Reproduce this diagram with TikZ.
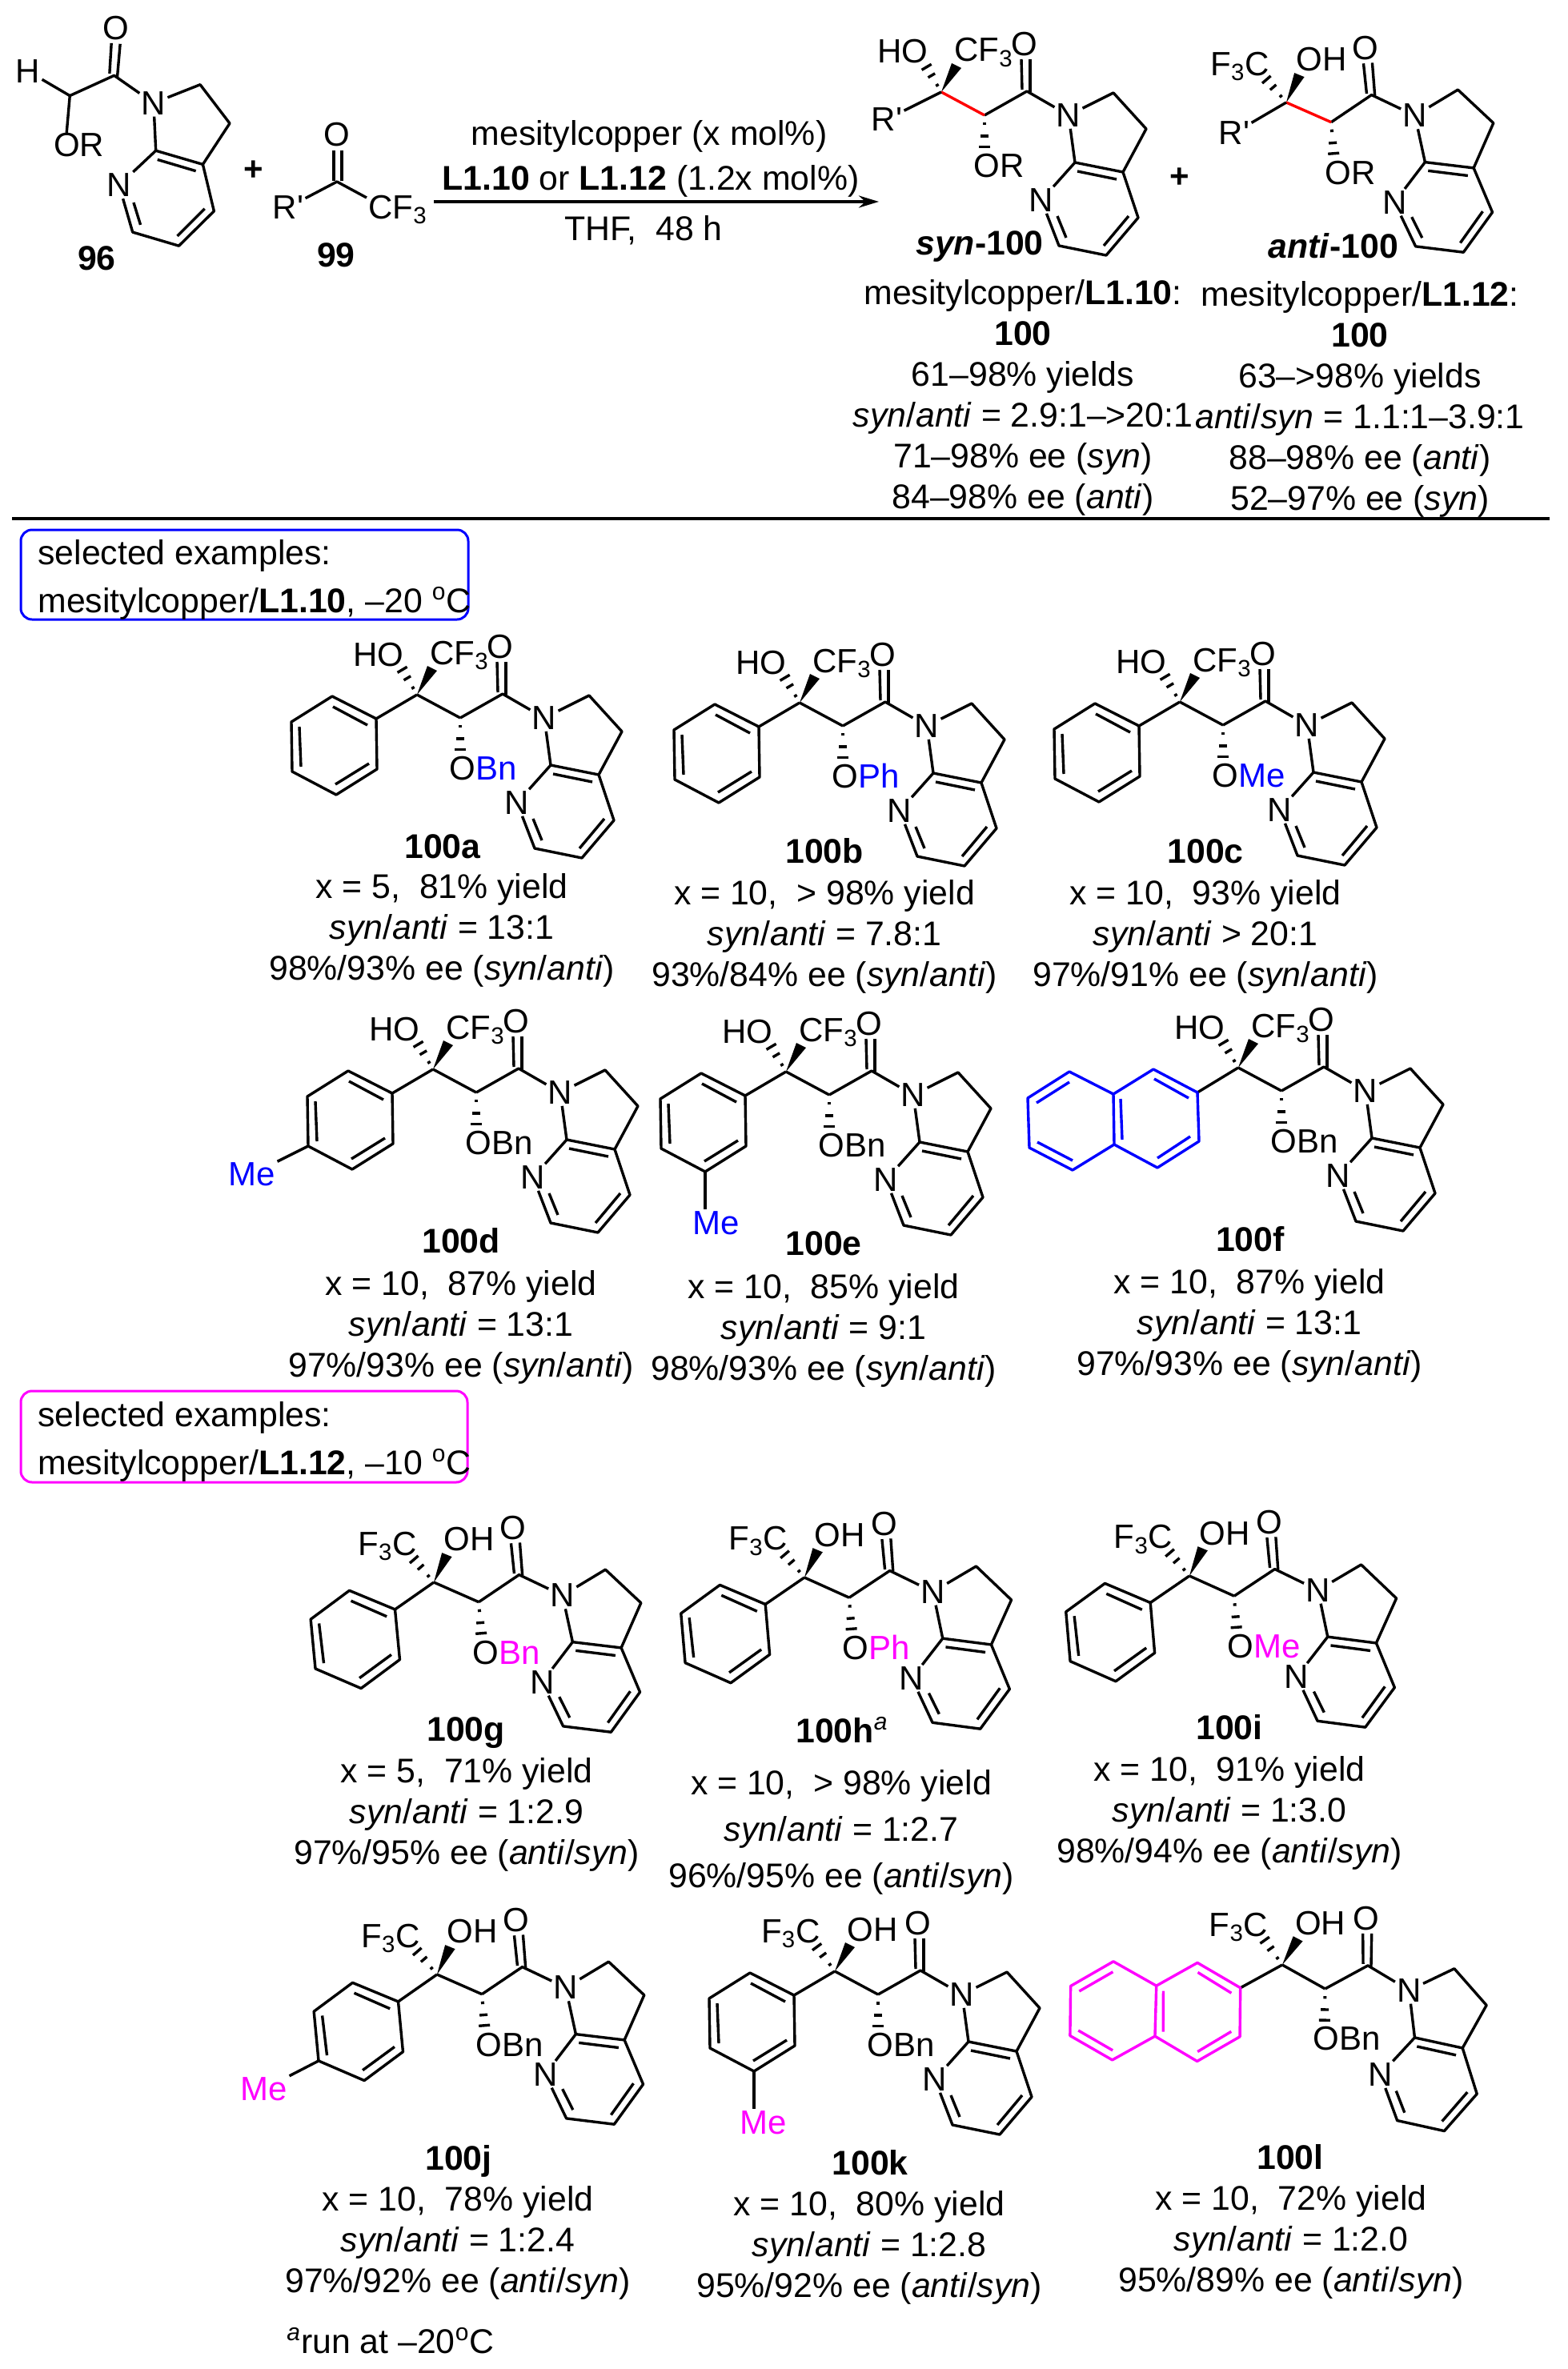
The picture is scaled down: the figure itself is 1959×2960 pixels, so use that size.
\documentclass[tikz,border=0pt]{standalone}
\usepackage{fontspec}
\setmainfont{Liberation Sans}
\usetikzlibrary{arrows.meta,calc}

\definecolor{exblue}{RGB}{0,0,255}
\definecolor{exmag}{RGB}{255,0,255}
\definecolor{exred}{RGB}{255,0,0}

\tikzset{
  bond/.style = {line width = 1.7pt, line join = round},
  atom/.style = {inner sep = 1pt, font = \fontsize{21}{25}\selectfont},
  group/.style = {inner sep = 0pt, font = \fontsize{21}{25}\selectfont},
  cmpd/.style = {inner sep = 0pt, anchor = base, font = \bfseries\fontsize{21.4}{25}\selectfont},
  txt/.style = {inner sep = 0pt, font = \fontsize{21.4}{25}\selectfont},
  result/.style = {inner sep = 0pt, align = center, font = \fontsize{21.4}{25.5}\selectfont},
  selbox/.style = {line width = 1.5pt, rounded corners = 7pt}
}

\newcommand{\hashbond}[2]{
  \foreach \hpos/\hw in {.22/1pt,.53/2.5pt,.8/3.5pt}
    \draw [bond] ($(#1)!\hpos!(#2)!\hw!90:(#2)$) -- ($(#1)!\hpos!(#2)!\hw!-90:(#2)$);
}

\newcommand{\amidecore}[3]{
  \begin{scope}[shift = {(#1)}, rotate = #2]
    \coordinate (cq) at (0,0);
    \coordinate (ch) at (54,29);
    \coordinate (co) at (107,-1);
    \coordinate (ca) at (215,1);
    \coordinate (cb) at (256,46);
    \coordinate (c3a) at (227,100);
    \coordinate (c7a) at (167,88);
    \coordinate (c6) at (147,192);
    \coordinate (c5) at (206,204);
    \coordinate (c4) at (246,157);
    \coordinate (orup) at (54,78);
    \node [atom] (ok) at (104,-60) {O};
    \node [atom] (n1) at (159,29) {N};
    \node [atom] (n7) at (125,135) {N};
    \node [group, anchor = base west] (or) at (40,106) {O#3};
    \draw [bond] (ch) -- (co) -- (n1) -- (ca) -- (cb) -- (c3a) -- (c7a) -- (n1);
    \draw [bond] (c7a) -- (n7) -- (c6) -- (c5) -- (c4) -- (c3a);
    \draw [bond] (100,-41) -- (101,-3);
    \draw [bond] (111,-41) -- (111,0);
    \draw [bond] (170,99) -- (219,109);
    \draw [bond] (145,155) -- (156,182);
    \draw [bond] (203,192) -- (234,155);
  \end{scope}
}

\newcommand{\synmol}[4][black]{
  \amidecore{#2}{#3}{#4}
  \begin{scope}[shift = {(#2)}, rotate = #3]
    \node [group, anchor = base east] (ho) at (-16,-36) {HO};
    \node [group, anchor = base west] (cf) at (16,-38) {CF\textsubscript{3}};
    \coordinate (hashend) at (-23,-39);
    \fill (cq) -- (13,-36) -- (25,-30) -- cycle;
    \draw [bond, #1] (cq) -- (ch);
    \hashbond{cq}{hashend}
    \hashbond{ch}{orup}
  \end{scope}
}

\newcommand{\antimol}[4][black]{
  \amidecore{#2}{#3}{#4}
  \begin{scope}[shift = {(#2)}, rotate = #3]
    \node [group, anchor = base east] (cf) at (-18,-35.5) {F\textsubscript{3}C};
    \node [group, anchor = base west] (ho) at (15,-38) {OH};
    \coordinate (hashend) at (-28,-38);
    \fill (cq) -- (13,-36) -- (25,-30) -- cycle;
    \draw [bond, #1] (cq) -- (ch);
    \hashbond{cq}{hashend}
    \hashbond{ch}{orup}
  \end{scope}
}

\newcommand{\phenyl}[2]{
  \begin{scope}[shift = {(#1)}, rotate = #2]
    \coordinate (p1) at (-51,30);
    \coordinate (p2) at (-106,2);
    \coordinate (p3) at (-157,34);
    \coordinate (p4) at (-156,96);
    \coordinate (p5) at (-101,125);
    \coordinate (p6) at (-50,93);
    \draw [bond] (cq) -- (p1);
    \draw [bond] (p1) -- (p2) -- (p3) -- (p4) -- (p5) -- (p6) -- cycle;
    \draw [bond] (-62,38) -- (-105,15);
    \draw [bond] (-147,40) -- (-145,90);
    \draw [bond] (-102,112) -- (-60,86);
  \end{scope}
}

\newcommand{\naphthyl}[3]{
  \begin{scope}[shift = {(#1)}, rotate = #2]
    \coordinate (p1) at (-51,31);
    \draw [bond] (cq) -- (p1);
    \draw [bond, #3] (p1) -- (-106,2) -- (-156,33) -- (-211,5) -- (-263,38) -- (-261,100)
      -- (-207,128) -- (-155,96) -- (-101,125) -- (-49,92) -- cycle;
    \draw [bond, #3] (-156,33) -- (-155,96);
    \draw [bond, #3] (-105,14) -- (-62,38);
    \draw [bond, #3] (-147,39) -- (-145,90);
    \draw [bond, #3] (-101,113) -- (-60,86);
    \draw [bond, #3] (-211,18) -- (-252,44);
    \draw [bond, #3] (-251,93) -- (-207,116);
  \end{scope}
}

\begin{document}
\begin{tikzpicture}[x = 0.5pt, y = -0.5pt]
\useasboundingbox (0,0) rectangle (1959,2960);

\amidecore{36,86}{-5}{R}
\node [atom] (h) at (35,89) {H};
\draw [bond] (h) -- (ch);
\draw [bond] (ch) -- (orup);
\node [cmpd] (l96) at (121,337) {96};

\node [txt, font = \bfseries\fontsize{21}{25}\selectfont] (plus1) at (317,213) {+};

\coordinate (cc) at (421,227);
\coordinate (cfb) at (458,247);
\node [atom] (o99) at (421,168) {O};
\node [atom] (r99) at (360,259) {R\textquotesingle};
\node [group, anchor = base west] (cf99) at (460,273) {CF\textsubscript{3}};
\draw [bond] (r99) -- (cc) -- (cfb);
\draw [bond] (417,188) -- (417,226);
\draw [bond] (427,188) -- (427,226);
\node [cmpd] (l99) at (420,333) {99};

\coordinate (arrowa) at (542,252);
\coordinate (arrowb) at (1098,252);
\draw [line width = 1.8pt, -{Stealth[length = 12.5pt, width = 7.5pt]}] (arrowa) -- (arrowb);
\node [txt, anchor = base] (cond1) at (811,181) {mesitylcopper (x mol\%)};
\node [txt, anchor = base] (cond2) at (813,237) {\textbf{L1.10} or \textbf{L1.12} (1.2x mol\%)};
\node [txt, anchor = base] (cond3) at (804,300) {THF,~ 48 h};

\synmol[exred]{1176,115}{0}{R}
\node [atom] (rsyn) at (1108,149) {R\textquotesingle};
\draw [bond] (cq) -- (rsyn);
\node [cmpd] (lsyn) at (1224,318) {\textit{syn}-100};

\node [txt, font = \bfseries\fontsize{21}{25}\selectfont] (plus2) at (1474,222) {+};

\antimol[exred]{1607,128}{4.5}{R}
\node [atom] (ranti) at (1542,166) {R\textquotesingle};
\draw [bond] (cq) -- (ranti);
\node [cmpd] (lanti) at (1666,322) {\textit{anti}-100};

\node [result] (colsyn) at (1278,497) {mesitylcopper/\textbf{L1.10}:\\\textbf{100}\\61–98\% yields\\\textit{syn}/\textit{anti} = 2.9:1–>20:1\\71–98\% ee (\textit{syn})\\84–98\% ee (\textit{anti})};
\node [result] (colanti) at (1699,499) {mesitylcopper/\textbf{L1.12}:\\\textbf{100}\\63–>98\% yields\\\textit{anti}/\textit{syn} = 1.1:1–3.9:1\\88–98\% ee (\textit{anti})\\52–97\% ee (\textit{syn})};

\coordinate (rulea) at (15,648);
\coordinate (ruleb) at (1936,648);
\draw [line width = 1.8pt] (rulea) -- (ruleb);

\draw [selbox, exblue] (26,662) rectangle (585,774);
\node [txt, anchor = base west] (sel1) at (47,705) {selected examples:};
\node [txt, anchor = base west] (sel2) at (47,765) {mesitylcopper/\textbf{L1.10}, –20 \textsuperscript{o}C};

\synmol{521,868}{0}{\textcolor{exblue}{Bn}}
\phenyl{521,868}{0}
\node [cmpd] (la) at (553,1072) {100a};
\node [result] (ra) at (552,1162) {x = 5,~ 81\% yield\\\textit{syn}/\textit{anti} = 13:1\\98\%/93\% ee (\textit{syn}/\textit{anti})};

\synmol{999,878}{0}{\textcolor{exblue}{Ph}}
\phenyl{999,878}{0}
\node [cmpd] (lb) at (1030,1078) {100b};
\node [result] (rb) at (1030,1170) {x = 10,~ > 98\% yield\\\textit{syn}/\textit{anti} = 7.8:1\\93\%/84\% ee (\textit{syn}/\textit{anti})};

\synmol{1474,877}{0}{\textcolor{exblue}{Me}}
\phenyl{1474,877}{0}
\node [cmpd] (lc) at (1506,1078) {100c};
\node [result] (rc) at (1506,1170) {x = 10,~ 93\% yield\\\textit{syn}/\textit{anti} > 20:1\\97\%/91\% ee (\textit{syn}/\textit{anti})};

\synmol{541,1336}{0}{Bn}
\phenyl{541,1336}{0}
\node [atom, exblue] (med) at (315,1467) {Me};
\draw [bond] (p4) -- (med);
\node [cmpd] (ld) at (576,1565) {100d};
\node [result] (rd) at (576,1658) {x = 10,~ 87\% yield\\\textit{syn}/\textit{anti} = 13:1\\97\%/93\% ee (\textit{syn}/\textit{anti})};

\synmol{982,1339}{0}{Bn}
\phenyl{982,1339}{0}
\node [atom, exblue] (mee) at (895,1528) {Me};
\draw [bond] (p5) -- (p5 |- mee.north);
\node [cmpd] (le) at (1029,1568) {100e};
\node [result] (re) at (1029,1662) {x = 10,~ 85\% yield\\\textit{syn}/\textit{anti} = 9:1\\98\%/93\% ee (\textit{syn}/\textit{anti})};

\synmol{1547,1334}{0}{Bn}
\naphthyl{1547,1334}{0}{exblue}
\node [cmpd] (lf) at (1562,1563) {100f};
\node [result] (rf) at (1561,1656) {x = 10,~ 87\% yield\\\textit{syn}/\textit{anti} = 13:1\\97\%/93\% ee (\textit{syn}/\textit{anti})};

\draw [selbox, exmag] (26,1738) rectangle (584,1852);
\node [txt, anchor = base west] (sel3) at (47,1782) {selected examples:};
\node [txt, anchor = base west] (sel4) at (47,1842) {mesitylcopper/\textbf{L1.12}, –10 \textsuperscript{o}C};

\antimol{542,1977}{4.5}{\textcolor{exmag}{Bn}}
\phenyl{542,1977}{4.5}
\node [cmpd] (lg) at (582,2175) {100g};
\node [result] (rg) at (583,2267) {x = 5,~ 71\% yield\\\textit{syn}/\textit{anti} = 1:2.9\\97\%/95\% ee (\textit{anti}/\textit{syn})};

\antimol{1005,1971}{4}{\textcolor{exmag}{Ph}}
\phenyl{1005,1971}{4}
\node [cmpd] (lh) at (1052,2177) {100h\textsuperscript{\mdseries\textit{a}}};
\node [result, font = \fontsize{21.4}{29}\selectfont] (rh) at (1051,2289) {x = 10,~ > 98\% yield\\\textit{syn}/\textit{anti} = 1:2.7\\96\%/95\% ee (\textit{anti}/\textit{syn})};

\antimol{1486,1969}{4}{\textcolor{exmag}{Me}}
\phenyl{1486,1969}{4}
\node [cmpd] (li) at (1536,2173) {100i};
\node [result] (ri) at (1536,2265) {x = 10,~ 91\% yield\\\textit{syn}/\textit{anti} = 1:3.0\\98\%/94\% ee (\textit{anti}/\textit{syn})};

\antimol{546,2467}{4.5}{Bn}
\phenyl{546,2467}{4.5}
\node [atom, exmag] (mej) at (330,2610) {Me};
\draw [bond] (p4) -- (mej);
\node [cmpd] (lj) at (573,2711) {100j};
\node [result] (rj) at (572,2802) {x = 10,~ 78\% yield\\\textit{syn}/\textit{anti} = 1:2.4\\97\%/92\% ee (\textit{anti}/\textit{syn})};

\antimol{1043,2463}{0}{Bn}
\phenyl{1043,2463}{0}
\node [atom, exmag] (mek) at (954,2652) {Me};
\draw [bond] (p5) -- (p5 |- mek.north);
\node [cmpd] (lk) at (1087,2717) {100k};
\node [result] (rk) at (1086,2808) {x = 10,~ 80\% yield\\\textit{syn}/\textit{anti} = 1:2.8\\95\%/92\% ee (\textit{anti}/\textit{syn})};

\antimol{1602,2455}{-1}{Bn}
\naphthyl{1602,2455}{-2.5}{exmag}
\node [cmpd] (ll) at (1612,2710) {100l};
\node [result] (rl) at (1613,2801) {x = 10,~ 72\% yield\\\textit{syn}/\textit{anti} = 1:2.0\\95\%/89\% ee (\textit{anti}/\textit{syn})};

\node [txt, anchor = base west] (foot) at (358,2940) {\textsuperscript{\textit{a}}run at –20\textsuperscript{o}C};
\end{tikzpicture}
\end{document}
